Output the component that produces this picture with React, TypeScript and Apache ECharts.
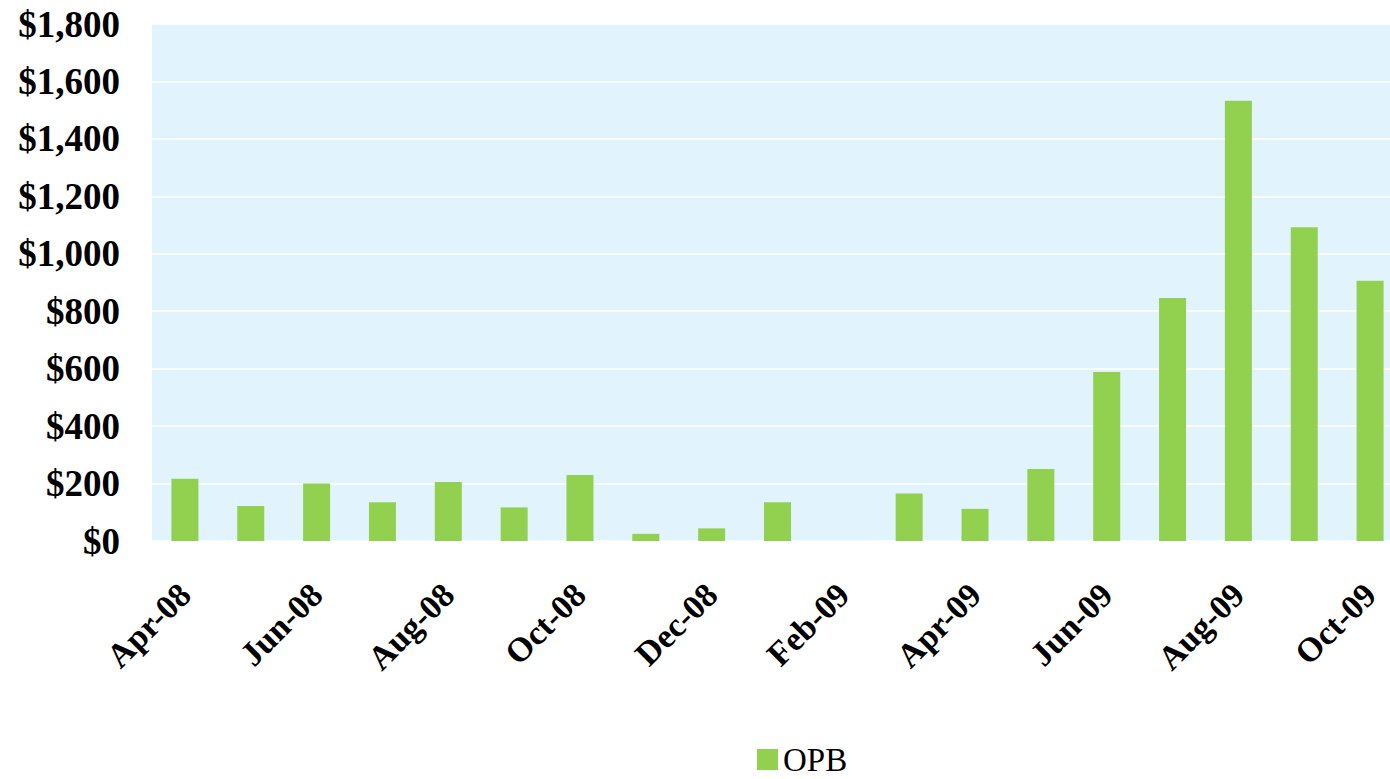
import React, { useEffect, useRef } from "react";
import * as echarts from "echarts";

const categories = [
  "Apr-08", "May-08", "Jun-08", "Jul-08", "Aug-08", "Sep-08", "Oct-08", "Nov-08",
  "Dec-08", "Jan-09", "Feb-09", "Mar-09", "Apr-09", "May-09", "Jun-09", "Jul-09",
  "Aug-09", "Sep-09", "Oct-09",
];
const opbValues = [
  217, 122, 200, 135, 205, 117, 230, 25, 44, 135, 0, 165, 112, 251, 588, 846, 1533, 1092, 906,
];
const seriesName = "OPB";
const yMin = 0;
const yMax = 1800;
const yStep = 200;

export default function App() {
  const ref = useRef<HTMLDivElement>(null);
  useEffect(() => {
    if (!ref.current) return;
    const chart = echarts.init(ref.current, null, { renderer: "svg" });
    const font = "'Liberation Serif', 'Times New Roman', serif";
    chart.setOption({
      animation: false,
      backgroundColor: "#ffffff",
      grid: {
        show: true,
        left: 152,
        top: 24,
        width: 1251,
        height: 517,
        backgroundColor: "#E1F4FD",
        borderWidth: 0,
        containLabel: false,
      },
      legend: {
        show: true,
        data: [seriesName],
        left: 757,
        top: 743,
        padding: 0,
        itemWidth: 21,
        itemHeight: 21,
        itemGap: 8,
        icon: "rect",
        textStyle: { fontFamily: font, fontSize: 33, lineHeight: 33, color: "#000" },
      },
      xAxis: {
        type: "category",
        data: categories,
        axisLine: { show: false },
        axisTick: { show: false },
        axisLabel: {
          interval: 1,
          rotate: 45,
          margin: 48,
          fontFamily: font,
          fontWeight: "bold",
          fontSize: 34,
          color: "#000",
        },
      },
      yAxis: {
        type: "value",
        min: yMin,
        max: yMax,
        interval: yStep,
        axisLine: { show: false },
        axisTick: { show: false },
        splitLine: { show: true, lineStyle: { color: "#ffffff", width: 1.5 } },
        axisLabel: {
          margin: 32,
          fontFamily: font,
          fontWeight: "bold",
          fontSize: 37,
          color: "#000",
          formatter: (v: number) => "$" + v.toLocaleString("en-US"),
        },
      },
      series: [
        {
          name: seriesName,
          type: "bar",
          data: opbValues,
          barWidth: 27,
          itemStyle: { color: "#92D050" },
        },
      ],
    });
    return () => chart.dispose();
  }, []);
  return (
    <div
      style={{
        position: "absolute",
        left: 0,
        top: 0,
        width: 1390,
        height: 779,
        overflow: "hidden",
        background: "#ffffff",
      }}
    >
      <div ref={ref} style={{ width: 1420, height: 779 }} />
    </div>
  );
}
